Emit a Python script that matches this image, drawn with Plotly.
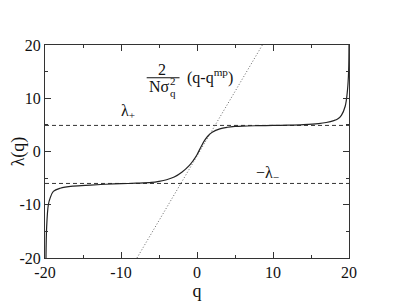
import plotly.graph_objects as go

# solid curve lambda(q)
q_vals = [-19.87, -19.78, -19.56, -19.34, -18.9, -18.0, -16.3, -14, -12, -10, -8, -6, -5, -4, -3, -2, -1, -0.5,
          0, 0.5, 1, 1.5, 2, 3, 4, 5, 6, 8, 10, 12, 14, 16, 17, 18, 18.5, 19, 19.5, 19.8, 19.95, 20]
lam_vals = [-20, -14.1, -10.0, -8.8, -7.5, -6.9, -6.5, -6.3, -6.15, -6.05, -5.95, -5.8, -5.6, -5.3, -4.8, -3.9, -2.6, -1.7,
            -0.6, 0.8, 2.1, 3.0, 3.6, 4.25, 4.55, 4.7, 4.78, 4.85, 4.9, 4.95, 5.05, 5.25, 5.45, 5.8, 6.1, 6.8, 8.5, 11.5, 15, 20]

# dotted line: 2/(N sigma_q^2) (q - q_mp)
line_q = [-7.9, 8.6]
line_y = [-20, 20]

# dashed levels
lambda_plus = 4.9
minus_lambda_minus = -6.0
x_range = [-20, 20]
tick_vals = [-20, -10, 0, 10, 20]
tick_text = ["-20", "-10", "0", "10", "20"]

font_family = "Liberation Serif"
fig = go.Figure()
fig.add_trace(go.Scatter(x=x_range, y=[lambda_plus, lambda_plus], mode="lines",
                         line=dict(color="#333", width=1, dash="4px,3px"), hoverinfo="skip"))
fig.add_trace(go.Scatter(x=x_range, y=[minus_lambda_minus, minus_lambda_minus], mode="lines",
                         line=dict(color="#333", width=1, dash="4px,3px"), hoverinfo="skip"))
fig.add_trace(go.Scatter(x=line_q, y=line_y, mode="lines",
                         line=dict(color="#666", width=1, dash="1px,2px")))
fig.add_trace(go.Scatter(x=q_vals, y=lam_vals, mode="lines", line_shape="spline",
                         line=dict(color="#222", width=1.2)))

ann_font = dict(family=font_family, size=16, color="#111")
small_font = dict(family=font_family, size=11, color="#111")
annotations = [
    dict(x=-4.64, y=15.44, text="2", showarrow=False, font=ann_font),
    dict(x=-5.0, y=12.17, text="Nσ", showarrow=False, font=ann_font),
    dict(x=-3.1, y=13.3, text="2", showarrow=False, font=small_font),
    dict(x=-3.1, y=10.9, text="q", showarrow=False, font=small_font),
    dict(x=-1.6, y=14.05, text="(q-q<sup>mp</sup>)", showarrow=False, xanchor="left", font=ann_font),
    dict(x=-9.08, y=7.42, text="λ<sub>+</sub>", showarrow=False, font=ann_font),
    dict(x=9.21, y=-4.04, text="−λ<sub>−</sub>", showarrow=False, font=ann_font),
]
for a in annotations:
    a.update(xref="x", yref="y")

fig.add_shape(type="line", xref="x", yref="y", x0=-6.62, x1=-2.3, y0=13.85, y1=13.85,
              line=dict(color="#111", width=1))

axis_common = dict(showgrid=False, zeroline=False, showline=True, linecolor="#333", linewidth=1,
                   mirror="ticks", ticks="inside", ticklen=6, tickcolor="#333", automargin=False,
                   tickvals=tick_vals, ticktext=tick_text,
                   tickfont=dict(family=font_family, size=16, color="#111"),
                   minor=dict(ticks="inside", ticklen=3, tickcolor="#333", dtick=5, tick0=0))
fig.update_xaxes(range=x_range,
                 title=dict(text="q", font=dict(family=font_family, size=18, color="#111"), standoff=0),
                 **axis_common)
fig.update_yaxes(range=[-20, 20],
                 title=dict(text="λ(q)", font=dict(family=font_family, size=18, color="#111"), standoff=4),
                 **axis_common)
# page body has an 8px default margin, so margins are reduced by 8 on left/top
fig.update_layout(width=393, height=304, margin=dict(l=37, r=52, t=37, b=54),
                  plot_bgcolor="white", paper_bgcolor="white", showlegend=False,
                  font=dict(family=font_family),
                  annotations=annotations)
fig.write_html("out.html")
